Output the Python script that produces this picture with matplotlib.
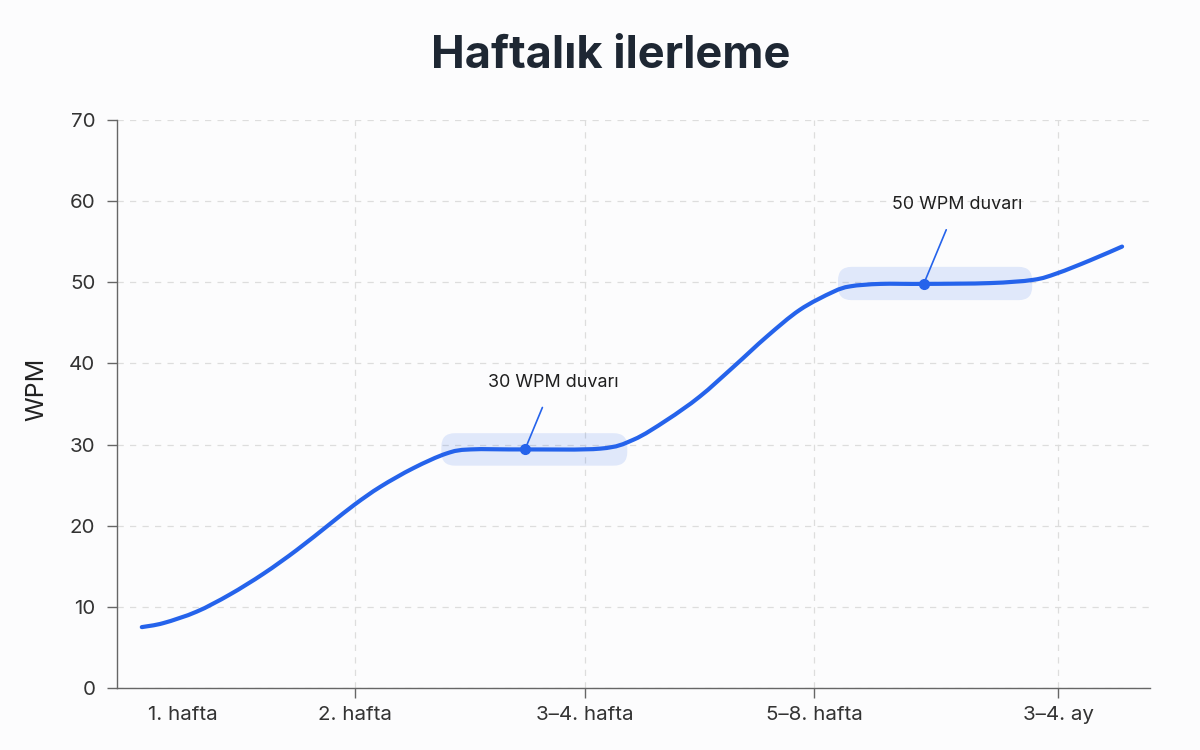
import matplotlib.pyplot as plt
from matplotlib.patches import FancyBboxPatch, PathPatch
from matplotlib.path import Path

# x positions are on a 0-100 scale across the axis width
tick_pos = [6.4, 23.0, 45.3, 67.5, 91.1]
tick_labels = ["1. hafta", "2. hafta", "3–4. hafta", "5–8. hafta", "3–4. ay"]

curve_x = [2.4, 4.5, 7.7, 10.9, 14.2, 17.4, 20.6, 23.0, 25.5, 28.7, 31.9, 34.2,
           39.5, 46.8, 50.0, 53.2, 56.4, 59.7, 62.9, 66.1, 69.3, 71.0, 73.9,
           78.1, 84.5, 88.7, 91.0, 94.2, 97.3]
curve_y = [7.5, 8.0, 9.4, 11.5, 14.1, 17.0, 20.2, 22.6, 24.8, 27.1, 28.9, 29.4,
           29.4, 29.5, 30.6, 33.0, 35.9, 39.6, 43.3, 46.6, 48.8, 49.5, 49.8,
           49.8, 49.9, 50.3, 51.1, 52.7, 54.4]

# plateaus: (x0, x1, y0, y1)
bands = [(31.4, 49.4, 27.4, 31.4), (69.8, 88.6, 47.8, 51.9)]
walls = ["30 WPM duvarı", "50 WPM duvarı"]
wall_pts = [(39.5, 29.4), (78.1, 49.8)]
wall_text = [(42.2, 37.7), (81.3, 59.6)]

blue = "#2563eb"
bg = "#fcfcfd"
plt.rcParams["font.family"] = ["Inter", "DejaVu Sans"]


def smooth_path(xs, ys):
    # Catmull-Rom through the points, drawn as cubic Bezier segments
    pts = list(zip(xs, ys))
    n = len(pts)
    verts = [pts[0]]
    codes = [Path.MOVETO]
    for i in range(n - 1):
        p0 = pts[max(i - 1, 0)]
        p1 = pts[i]
        p2 = pts[i + 1]
        p3 = pts[min(i + 2, n - 1)]
        c1 = (p1[0] + (p2[0] - p0[0]) / 6, p1[1] + (p2[1] - p0[1]) / 6)
        c2 = (p2[0] - (p3[0] - p1[0]) / 6, p2[1] - (p3[1] - p1[1]) / 6)
        verts += [c1, c2, p2]
        codes += [Path.CURVE4] * 3
    return Path(verts, codes)


fig = plt.figure(figsize=(12, 7.5), dpi=100, facecolor=bg)
ax = fig.add_axes([0.0975, 0.0827, 0.8608, 0.7573], facecolor=bg)

for x0, x1, y0, y1 in bands:
    p = FancyBboxPatch((x0, y0), x1 - x0, y1 - y0,
                       boxstyle="round,pad=0,rounding_size=1.3",
                       mutation_aspect=1.273, fc=blue, alpha=0.13, ec="none", zorder=1)
    ax.add_patch(p)

ax.add_patch(PathPatch(smooth_path(curve_x, curve_y), fc="none", ec=blue, lw=3,
                       capstyle="round", joinstyle="round", zorder=3))

for lab, (px, py), (tx, ty) in zip(walls, wall_pts, wall_text):
    ax.plot(px, py, "o", color=blue, ms=7, zorder=4)
    ax.annotate(lab, xy=(px, py), xytext=(tx, ty), ha="center", va="center",
                fontsize=12.9, color="#1f1f1f",
                arrowprops=dict(arrowstyle="-", color=blue, lw=1.2,
                                shrinkA=11, shrinkB=0), zorder=4)

ax.set_xlim(0, 100)
ax.set_ylim(0, 70)
ax.set_yticks(range(0, 71, 10))
ax.set_xticks(tick_pos)
ax.set_xticklabels(tick_labels)
ax.tick_params(axis="both", labelsize=14.8, labelcolor="#333333", color="#666666",
               length=7, width=1)
ax.tick_params(axis="x", pad=6)
ax.tick_params(axis="y", pad=8.5)
ax.grid(True, ls=(0, (5, 5)), color="#dddddd", lw=0.9)
ax.set_axisbelow(True)
ax.xaxis.get_major_ticks()[0].tick1line.set_visible(False)
ax.xaxis.get_major_ticks()[0].gridline.set_visible(False)

for s in ["top", "right"]:
    ax.spines[s].set_visible(False)
for s in ["left", "bottom"]:
    ax.spines[s].set_color("#666666")
    ax.spines[s].set_linewidth(1)

ax.set_ylabel("WPM", fontsize=18, color="#222222")
ax.yaxis.set_label_coords(-0.066, 0.525)
fig.text(0.509, 0.925, "Haftalık ilerleme", ha="center", va="center",
         fontsize=32.5, fontweight="bold", color="#1e2733")

fig.savefig("out.png", dpi=100, facecolor=bg)
